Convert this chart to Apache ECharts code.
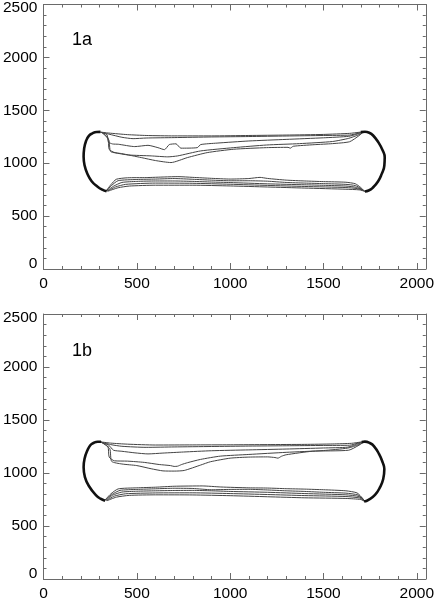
<!DOCTYPE html>
<html><head><meta charset="utf-8">
<script src="https://cdn.jsdelivr.net/npm/echarts@6/dist/echarts.min.js"></script>
<style>html,body{margin:0;padding:0;background:#fff}#c{width:437px;height:602px}</style>
</head><body><div id="c"></div>
<script>
// ---- tick labels ----
const xTickLabels = [0, 500, 1000, 1500, 2000];
const yTickLabels = [0, 500, 1000, 1500, 2000, 2500];
const panelTitles = ['1a', '1b'];

// ---- panel 1a ----
const a_capLeft = [[305,1296],[285,1295],[262,1282],[243,1258],[228,1210],[218,1140],[215,1060],[220,980],[235,900],[258,830],[290,778],[315,750],[338,734]];
const a_capRight = [[1700,1294],[1722,1297],[1745,1288],[1766,1262],[1794,1197],[1818,1118],[1828,1056],[1826,977],[1812,899],[1792,827],[1762,765],[1742,742],[1722,733]];
const a_up1 = [[300,1295],[350,1285],[450,1270],[550,1262],[700,1258],[900,1258],[1100,1262],[1300,1266],[1500,1272],[1640,1282],[1690,1292],[1715,1297]];
const a_up2 = [[305,1292],[350,1275],[420,1245],[480,1232],[550,1238],[700,1242],[900,1248],[1100,1252],[1300,1257],[1500,1262],[1640,1266],[1690,1285],[1715,1297]];
const a_up3 = [[308,1292],[340,1270],[348,1200],[370,1182],[401,1179],[489,1157],[560,1169],[613,1147],[648,1128],[674,1176],[710,1183],[736,1142],[824,1147],[842,1176],[930,1190],[1100,1210],[1300,1225],[1500,1240],[1635,1254],[1680,1275],[1715,1297]];
const a_up4 = [[312,1290],[345,1240],[352,1130],[383,1100],[454,1078],[577,1069],[666,1060],[719,1069],[842,1116],[1019,1147],[1195,1172],[1372,1185],[1548,1205],[1635,1235],[1690,1270],[1715,1297]];
const a_up5 = [[316,1288],[350,1220],[360,1110],[418,1091],[524,1053],[600,1025],[683,1006],[771,1053],[877,1100],[1019,1132],[1195,1147],[1310,1150],[1322,1142],[1338,1160],[1450,1175],[1548,1185],[1640,1203],[1690,1260],[1715,1297]];
const a_lo1 = [[335,737],[360,795],[390,848],[450,862],[550,864],[650,870],[720,873],[800,866],[900,857],[1000,850],[1100,855],[1160,866],[1200,856],[1300,840],[1400,832],[1500,826],[1620,820],[1670,806],[1700,770],[1720,735]];
const a_lo2 = [[335,737],[365,790],[400,835],[500,846],[600,850],[700,855],[800,848],[900,840],[1000,834],[1100,834],[1200,830],[1300,818],[1400,812],[1500,807],[1620,800],[1672,788],[1702,758],[1720,735]];
const a_lo3 = [[338,736],[375,782],[420,818],[500,828],[600,832],[700,832],[800,828],[900,822],[1000,817],[1200,805],[1400,796],[1500,791],[1620,784],[1676,772],[1706,750],[1720,735]];
const a_lo4 = [[340,735],[385,775],[440,800],[600,812],[800,810],[1000,801],[1200,790],[1400,780],[1620,770],[1682,760],[1710,745],[1720,735]];
const a_lo5 = [[345,735],[400,768],[460,784],[600,792],[800,792],[1000,785],[1200,775],[1400,765],[1620,754],[1692,748],[1720,735]];

// ---- panel 1b ----
const b_capLeft = [[308,1295],[290,1295],[270,1285],[252,1264],[235,1212],[220,1135],[215,1055],[222,962],[246,870],[282,790],[305,758],[330,738]];
const b_capRight = [[1705,1293],[1722,1296],[1748,1283],[1770,1254],[1798,1178],[1817,1100],[1826,1037],[1820,944],[1803,866],[1776,794],[1741,747],[1718,731]];
const b_up1 = [[300,1295],[360,1282],[450,1272],[600,1264],[800,1265],[1000,1266],[1200,1268],[1400,1270],[1550,1274],[1650,1280],[1700,1292],[1720,1297]];
const b_up2 = [[303,1294],[360,1268],[420,1252],[550,1242],[700,1246],[900,1250],[1100,1254],[1300,1257],[1500,1260],[1640,1262],[1690,1285],[1720,1297]];
const b_up3 = [[306,1293],[350,1262],[375,1215],[420,1205],[490,1190],[560,1180],[640,1188],[750,1198],[900,1210],[1100,1218],[1300,1226],[1500,1236],[1630,1244],[1690,1278],[1720,1297]];
const b_up4 = [[309,1290],[345,1250],[352,1150],[380,1115],[450,1112],[540,1100],[620,1080],[680,1070],[700,1062],[718,1064],[740,1080],[771,1097],[841,1128],[947,1159],[1100,1175],[1300,1195],[1500,1212],[1630,1235],[1690,1268],[1720,1297]];
const b_up5 = [[312,1288],[355,1230],[365,1110],[420,1085],[500,1070],[577,1040],[640,1020],[700,1018],[754,1024],[842,1075],[894,1106],[1000,1140],[1100,1150],[1200,1152],[1240,1146],[1256,1140],[1275,1158],[1300,1172],[1440,1205],[1635,1215],[1690,1262],[1720,1297]];
const b_lo1 = [[330,745],[360,802],[400,850],[500,860],[600,866],[700,875],[850,878],[950,868],[1100,860],[1200,858],[1300,852],[1400,848],[1500,842],[1620,832],[1680,812],[1710,760],[1720,732]];
const b_lo2 = [[330,745],[365,796],[410,836],[500,845],[600,851],[700,856],[800,854],[900,842],[1000,845],[1100,846],[1200,840],[1300,832],[1400,826],[1500,818],[1620,810],[1685,793],[1712,755],[1720,732]];
const b_lo3 = [[333,742],[370,790],[420,820],[500,828],[600,832],[700,835],[800,836],[900,832],[1000,826],[1200,818],[1400,806],[1620,794],[1690,778],[1715,745],[1720,732]];
const b_lo4 = [[336,740],[380,782],[440,804],[600,812],[800,813],[1000,806],[1200,797],[1400,787],[1620,778],[1695,764],[1718,738]];
const b_lo5 = [[340,738],[390,772],[460,789],[600,794],[800,793],[1000,786],[1200,776],[1400,766],[1620,760],[1700,750],[1720,732]];

const panels = [
  { caps: [a_capLeft, a_capRight], thin: [a_up1, a_up2, a_up3, a_up4, a_up5, a_lo1, a_lo2, a_lo3, a_lo4, a_lo5] },
  { caps: [b_capLeft, b_capRight], thin: [b_up1, b_up2, b_up3, b_up4, b_up5, b_lo1, b_lo2, b_lo3, b_lo4, b_lo5] }
];

const FONT = '"Liberation Sans", Arial, Helvetica, sans-serif';
const AXIS_COLOR = '#6a6a6a';
const grids = [
  { left: 41, top: 3, width: 387, height: 266 },
  { left: 41, top: 314, width: 387, height: 267 }
];

const xAxes = [], yAxes = [], series = [], graphics = [];
grids.forEach((g, i) => {
  const common = (pos) => ({
    gridIndex: i, type: 'value', position: pos,
    axisLine: { show: true, onZero: false, lineStyle: { color: AXIS_COLOR, width: 1 } },
    axisTick: { show: true, inside: true, length: 6, lineStyle: { color: AXIS_COLOR, width: 1 } },
    minorTick: { show: true, splitNumber: 5, length: 3, lineStyle: { color: AXIS_COLOR, width: 1 } },
    splitLine: { show: false }
  });
  xAxes.push(Object.assign(common('bottom'), {
    min: 0, max: 2048, interval: 500,
    axisLabel: { show: true, margin: 7, color: '#000', fontSize: 15.5, fontFamily: FONT,
      formatter: v => xTickLabels.includes(v) ? String(v) : '' }
  }));
  xAxes.push(Object.assign(common('top'), { min: 0, max: 2048, interval: 500, axisLabel: { show: false } }));
  yAxes.push(Object.assign(common('left'), {
    min: 0, max: 2500, interval: 500,
    axisLabel: { show: true, margin: 6, color: '#000', fontSize: 15.5, fontFamily: FONT,
      formatter: v => {
        if (!yTickLabels.includes(v)) return '';
        if (v === yTickLabels[0]) return '{lo|' + v + '}';
        if (v === yTickLabels[yTickLabels.length - 1]) return '{hi|' + v + '}';
        return String(v);
      },
      rich: {
        lo: { padding: [0, 0, 10, 0], fontSize: 15.5, fontFamily: FONT, color: '#000' },
        hi: { padding: [7, 0, 0, 0], fontSize: 15.5, fontFamily: FONT, color: '#000' }
      }
    }
  }));
  yAxes.push(Object.assign(common('right'), { min: 0, max: 2500, interval: 500, axisLabel: { show: false } }));

  const p = panels[i];
  p.thin.forEach(d => series.push({
    type: 'line', xAxisIndex: 2 * i, yAxisIndex: 2 * i, data: d,
    showSymbol: false, symbol: 'none', smooth: 0.2, silent: true,
    lineStyle: { color: '#444', width: 1 }
  }));
  p.caps.forEach(d => series.push({
    type: 'line', xAxisIndex: 2 * i, yAxisIndex: 2 * i, data: d,
    showSymbol: false, symbol: 'none', smooth: 0.5, silent: true,
    lineStyle: { color: '#111', width: 2.6 }
  }));
  graphics.push({ type: 'text', left: 72, top: g.top + 28,
    style: { text: panelTitles[i], font: '18px ' + FONT, fill: '#000' } });
});

const chart = echarts.init(document.getElementById('c'), null, { renderer: 'canvas' });
chart.setOption({
  animation: false,
  backgroundColor: '#fff',
  grid: grids,
  xAxis: xAxes,
  yAxis: yAxes,
  series: series,
  graphic: graphics
});
</script></body></html>
